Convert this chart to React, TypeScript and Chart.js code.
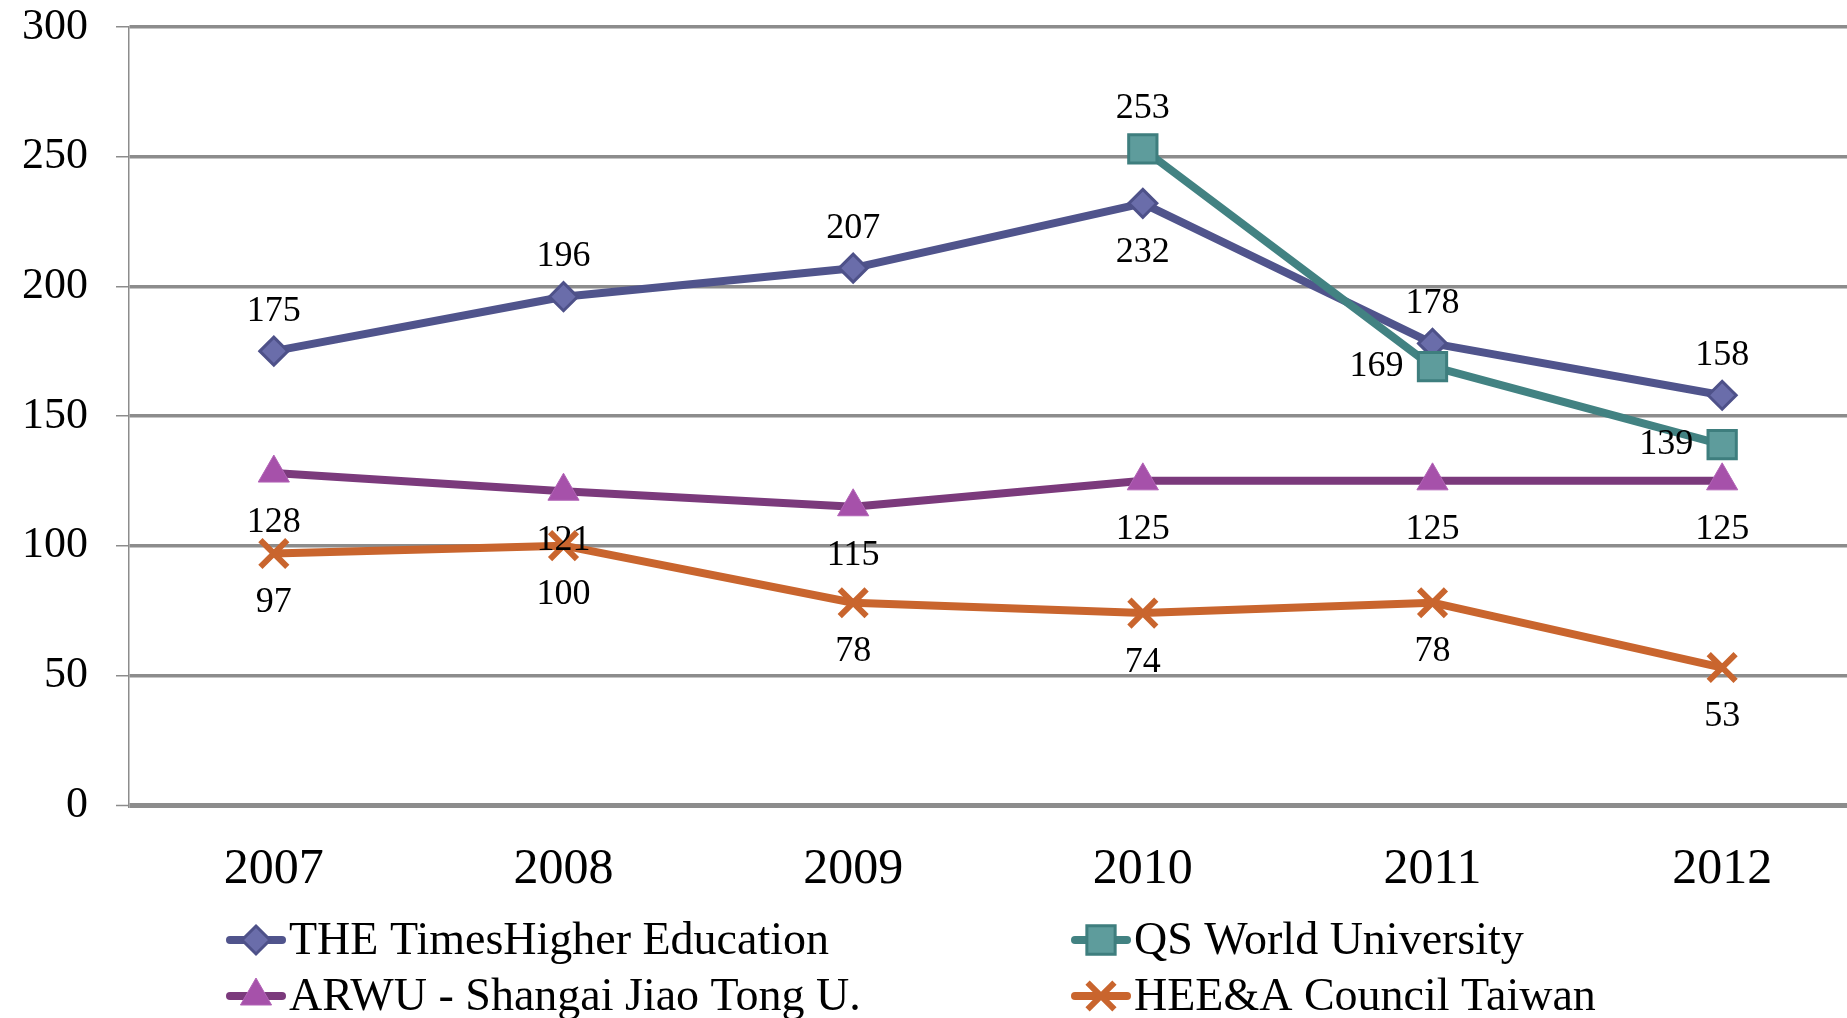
import { useEffect, useRef } from "react";
import { Chart, registerables } from "chart.js";

Chart.register(...registerables);

const categories = ["2007", "2008", "2009", "2010", "2011", "2012"];
const theValues = [175, 196, 207, 232, 178, 158];
const qsValues = [null, null, null, 253, 169, 139];
const arwuValues = [128, 121, 115, 125, 125, 125];
const heeValues = [97, 100, 78, 74, 78, 53];
const yTicks = [0, 50, 100, 150, 200, 250, 300];
const seriesNames = [
  "THE TimesHigher Education",
  "QS World University",
  "ARWU - Shangai Jiao Tong U.",
  "HEE&A Council Taiwan",
];

const FONT = '"Liberation Serif", "Times New Roman", serif';

const theLabelPos = ["above", "above", "above", "below", "above", "above"];
const qsLabelPos = ["above", "above", "above", "above", "left", "left"];
const arwuLabelPos = ["below", "below", "below", "below", "below", "below"];
const heeLabelPos = ["below", "below", "below", "below", "below", "below"];

function drawMarker(ctx: CanvasRenderingContext2D, kind: string, x: number, y: number, ds: any) {
  ctx.save();
  ctx.fillStyle = ds.pointBackgroundColor;
  ctx.strokeStyle = ds.pointBorderColor;
  ctx.lineWidth = ds.pointBorderWidth;
  ctx.beginPath();
  if (kind === "rectRot") {
    const r = ds.pointRadius;
    ctx.moveTo(x, y - r);
    ctx.lineTo(x + r, y);
    ctx.lineTo(x, y + r);
    ctx.lineTo(x - r, y);
    ctx.closePath();
    ctx.fill();
    ctx.stroke();
  } else if (kind === "rect") {
    const s = ds.pointRadius * Math.SQRT1_2;
    ctx.rect(x - s, y - s, 2 * s, 2 * s);
    ctx.fill();
    ctx.stroke();
  } else if (kind === "triangle") {
    const r = ds.pointRadius;
    ctx.moveTo(x, y - r);
    ctx.lineTo(x + r * 0.866, y + r * 0.5);
    ctx.lineTo(x - r * 0.866, y + r * 0.5);
    ctx.closePath();
    ctx.fill();
    ctx.stroke();
  } else {
    const d = ds.pointRadius * Math.SQRT1_2;
    ctx.moveTo(x - d, y - d);
    ctx.lineTo(x + d, y + d);
    ctx.moveTo(x + d, y - d);
    ctx.lineTo(x - d, y + d);
    ctx.stroke();
  }
  ctx.restore();
}

const dataLabelPlugin = {
  id: "dataLabels",
  afterDatasetsDraw(chart: any) {
    const ctx = chart.ctx;
    ctx.save();
    ctx.font = `36px ${FONT}`;
    ctx.fillStyle = "#000";
    ctx.textAlign = "center";
    ctx.textBaseline = "middle";
    chart.data.datasets.forEach((ds: any, di: number) => {
      const meta = chart.getDatasetMeta(di);
      meta.data.forEach((pt: any, i: number) => {
        const v = ds.data[i];
        if (v === null || v === undefined) return;
        const pos = ds.labelPos[i];
        let x = pt.x;
        let y = pt.y;
        if (pos === "above") y -= 40;
        else if (pos === "below") y += 49;
        else x -= 56;
        ctx.fillText(String(v), x, y);
      });
    });
    ctx.restore();
  },
};

const legendPlugin = {
  id: "customLegend",
  afterDraw(chart: any) {
    const ctx = chart.ctx;
    const cols = [226, 1071];
    const rows = [940, 996];
    const order = [0, 1, 2, 3];
    order.forEach((di, k) => {
      const ds = chart.data.datasets[di];
      const x0 = cols[k % 2];
      const y = rows[Math.floor(k / 2)];
      ctx.save();
      ctx.strokeStyle = ds.borderColor;
      ctx.lineWidth = 8;
      ctx.lineCap = "round";
      ctx.beginPath();
      ctx.moveTo(x0 + 4, y);
      ctx.lineTo(x0 + 56, y);
      ctx.stroke();
      ctx.restore();
      drawMarker(ctx, ds.pointStyle, x0 + 30, y, ds);
      ctx.save();
      ctx.font = `46px ${FONT}`;
      ctx.fillStyle = "#000";
      ctx.textAlign = "left";
      ctx.textBaseline = "middle";
      ctx.fillText(seriesNames[di], x0 + 63, y + 2);
      ctx.restore();
    });
  },
};

export default function App() {
  const ref = useRef<HTMLCanvasElement>(null);

  useEffect(() => {
    if (!ref.current) return;
    const chart = new Chart(ref.current, {
      type: "line",
      data: {
        labels: categories,
        datasets: [
          {
            label: seriesNames[0],
            data: theValues,
            labelPos: theLabelPos,
            borderColor: "#50548C",
            borderWidth: 8,
            pointStyle: "rectRot",
            pointRadius: 14,
            pointBackgroundColor: "#6A6DAA",
            pointBorderColor: "#4E5189",
            pointBorderWidth: 3,
            order: 4,
          },
          {
            label: seriesNames[1],
            data: qsValues,
            labelPos: qsLabelPos,
            borderColor: "#428282",
            borderWidth: 8,
            pointStyle: "rect",
            pointRadius: 20,
            pointBackgroundColor: "#5E9C9C",
            pointBorderColor: "#3E7E7E",
            pointBorderWidth: 3,
            order: 3,
          },
          {
            label: seriesNames[2],
            data: arwuValues,
            labelPos: arwuLabelPos,
            borderColor: "#7B3A7C",
            borderWidth: 8,
            pointStyle: "triangle",
            pointRadius: 18,
            pointBackgroundColor: "#A651AA",
            pointBorderColor: "#B263B6",
            pointBorderWidth: 1,
            order: 2,
          },
          {
            label: seriesNames[3],
            data: heeValues,
            labelPos: heeLabelPos,
            borderColor: "#C9652E",
            borderWidth: 8,
            pointStyle: "crossRot",
            pointRadius: 19,
            pointBackgroundColor: "#C9652E",
            pointBorderColor: "#C9652E",
            pointBorderWidth: 6,
            order: 1,
          },
        ] as any,
      },
      options: {
        responsive: false,
        animation: false,
        devicePixelRatio: 1,
        layout: { autoPadding: false, padding: { top: 27, left: 0, right: 0, bottom: 0 } },
        elements: { line: { tension: 0, borderJoinStyle: "round", borderCapStyle: "round" } },
        plugins: { legend: { display: false }, tooltip: { enabled: false } },
        scales: {
          x: {
            offset: true,
            grid: { display: false },
            border: { display: false },
            ticks: { font: { family: FONT, size: 50 }, color: "#000", padding: 27, maxRotation: 0 },
            afterFit(s: any) {
              s.height = 213;
              s.paddingLeft = 0;
              s.paddingRight = 0;
            },
          },
          y: {
            min: 0,
            max: 300,
            afterBuildTicks(s: any) {
              s.ticks = yTicks.map((v) => ({ value: v }));
            },
            ticks: { font: { family: FONT, size: 44 }, color: "#000", padding: 28 },
            grid: {
              color: "#8C8C8C",
              lineWidth: (c: any) => (c.tick && c.tick.value === 0 ? 5 : 3.5),
              tickLength: 13,
              tickWidth: 1.5,
              tickColor: "#8C8C8C",
            },
            border: { display: true, color: "#8C8C8C", width: 1.5 },
            afterFit(s: any) {
              s.width = 129;
              s.paddingTop = 0;
              s.paddingBottom = 0;
            },
          },
        },
      } as any,
      plugins: [dataLabelPlugin, legendPlugin],
    });
    return () => chart.destroy();
  }, []);

  return (
    <div
      style={{
        position: "fixed",
        left: 0,
        top: 0,
        width: "1847px",
        height: "1018px",
        overflow: "hidden",
        background: "#fff",
      }}
    >
      <canvas ref={ref} width={1867} height={1018} style={{ display: "block" }} />
    </div>
  );
}
